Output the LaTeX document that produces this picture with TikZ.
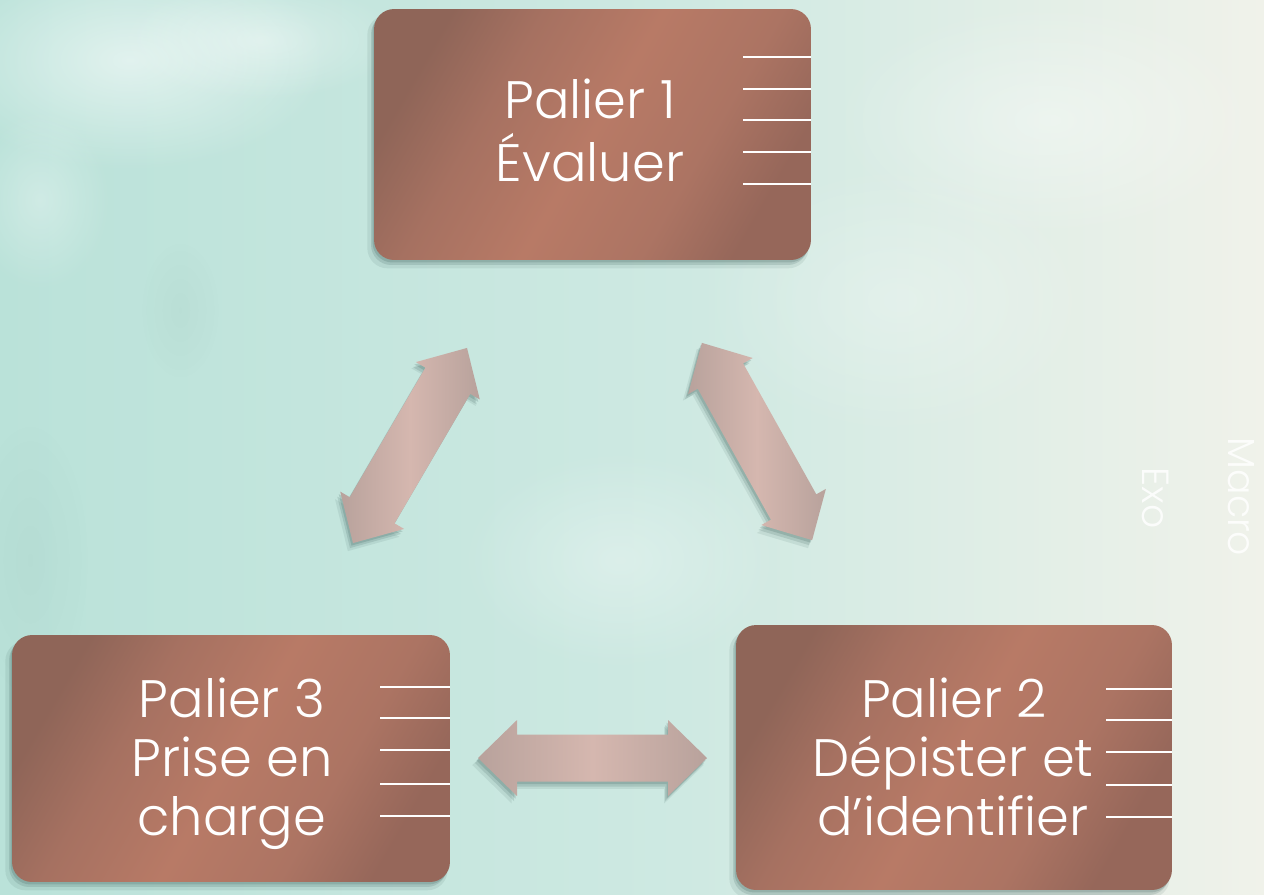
\documentclass[tikz,border=0pt]{standalone}
\usepackage{fontspec}
\IfFontExistsTF{Poppins Light}{\setmainfont{Poppins Light}}{\setmainfont{Poppins}}
\usetikzlibrary{shadows,fadings}
\definecolor{bdark}{RGB}{143,101,88}
\definecolor{bmid}{RGB}{166,113,97}
\definecolor{blight}{RGB}{184,122,102}
\definecolor{bmidb}{RGB}{172,116,99}
\definecolor{bdarkb}{RGB}{150,103,90}
\definecolor{adark}{RGB}{184,162,156}
\definecolor{alight}{RGB}{213,183,175}
\definecolor{bgA}{RGB}{186,226,217}
\definecolor{bgB}{RGB}{206,233,226}
\definecolor{bgC}{RGB}{240,242,234}
\definecolor{shadowc}{RGB}{55,90,85}
\pgfdeclarehorizontalshading{boxshade}{100bp}{color(0bp)=(bdark); color(25bp)=(bdark); color(36bp)=(bmid); color(50bp)=(blight); color(64bp)=(bmidb); color(75bp)=(bdarkb); color(100bp)=(bdarkb)}
\pgfdeclarehorizontalshading{arrowshade}{100bp}{color(0bp)=(adark); color(25bp)=(adark); color(50bp)=(alight); color(75bp)=(adark); color(100bp)=(adark)}
\pgfdeclarehorizontalshading{bgshade}{100bp}{color(0bp)=(bgA); color(25bp)=(bgA); color(52bp)=(bgB); color(75bp)=(bgC); color(100bp)=(bgC)}
\tikzfading[name=softblob, inner color=transparent!0, outer color=transparent!100]
\tikzset{
  shadowfx/.style={
    general shadow={fill=shadowc, opacity=0.10, shadow xshift=-0.09cm, shadow yshift=-0.14cm, shadow scale=1.01},
    general shadow={fill=shadowc, opacity=0.16, shadow xshift=-0.06cm, shadow yshift=-0.10cm},
    general shadow={fill=shadowc, opacity=0.20, shadow xshift=-0.03cm, shadow yshift=-0.05cm}},
  palierbox/.style={shape=rectangle, rounded corners=0.4cm, shading=boxshade, shading angle=-30, shadowfx, inner sep=0pt},
  boxtext/.style={text=white, anchor=base, inner sep=0pt, font=\fontsize{30}{36}\selectfont},
  tickline/.style={draw=white, line width=0.9pt},
  blockarrow/.style={shading=arrowshade, shadowfx},
  sidetext/.style={text=white, opacity=0.85, rotate=-90, font=\fontsize{21.5}{26}\selectfont, inner sep=0pt},
  blob/.style={fill=white, path fading=softblob}
}
\begin{document}
\begin{tikzpicture}[x=0.02cm, y=-0.02cm]
\useasboundingbox (0,0) rectangle (1264,894);
% background
\shade[shading=bgshade] (0,0) rectangle (1264,894);
\fill[blob, opacity=0.55] (130,60) ellipse (200 and 110);
\fill[blob, opacity=0.40] (260,40) ellipse (140 and 60);
\fill[blob, opacity=0.30] (40,200) ellipse (70 and 90);
\fill[blob, opacity=0.30] (620,560) ellipse (160 and 110);
\fill[blob, opacity=0.25] (900,300) ellipse (200 and 140);
\fill[blob, opacity=0.35] (1050,120) ellipse (220 and 120);
\fill[shadowc, path fading=softblob, opacity=0.04] (180,310) ellipse (40 and 70);
\fill[shadowc, path fading=softblob, opacity=0.04] (30,560) ellipse (60 and 140);
% boxes
\node[palierbox, minimum width=8.74cm, minimum height=5.02cm] (p1) at (592.5,134.5) {};
\node[palierbox, minimum width=8.72cm, minimum height=5.30cm] (p2) at (954,757.5) {};
\node[palierbox, minimum width=8.76cm, minimum height=4.94cm] (p3) at (231,758.5) {};
% tick lines
\foreach \yy in {57,89,120,152,184}
  \draw[tickline] ([xshift=-1.36cm]p1.east |- 0,\yy) -- (p1.east |- 0,\yy);
\foreach \yy in {689,720,752,785,817}
  \draw[tickline] ([xshift=-1.32cm]p2.east |- 0,\yy) -- (p2.east |- 0,\yy);
\foreach \yy in {687,718,750,784,816}
  \draw[tickline] ([xshift=-1.40cm]p3.east |- 0,\yy) -- (p3.east |- 0,\yy);
% texts
\node[boxtext] (p1a) at (590,118) {Palier 1};
\node[boxtext] (p1b) at (590,181) {Évaluer};
\node[boxtext] (p2a) at (954,717) {Palier 2};
\node[boxtext] (p2b) at (953,776) {Dépister et};
\node[boxtext] (p2c) at (953,835) {d’identifier};
\node[boxtext] (p3a) at (232,717) {Palier 3};
\node[boxtext] (p3b) at (232,776) {Prise en};
\node[boxtext] (p3c) at (232,835) {charge};
% arrows
\begin{scope}[shift={(410,445.5)}, rotate=59.7]
\shade[blockarrow] (-113,0) -- (-75,37) -- (-75,26) -- (75,26) -- (75,37) -- (113,0) -- (75,-37) -- (75,-26) -- (-75,-26) -- (-75,-37) -- cycle;
\end{scope}
\begin{scope}[shift={(757,441.5)}, rotate=-60.8]
\shade[blockarrow] (-113,0) -- (-75,37) -- (-75,26) -- (75,26) -- (75,37) -- (113,0) -- (75,-37) -- (75,-26) -- (-75,-26) -- (-75,-37) -- cycle;
\end{scope}
\begin{scope}[shift={(592.5,758)}]
\shade[blockarrow] (-114.5,0) -- (-75.5,38) -- (-75.5,23.5) -- (75.5,23.5) -- (75.5,38) -- (114.5,0) -- (75.5,-38) -- (75.5,-23.5) -- (-75.5,-23.5) -- (-75.5,-38) -- cycle;
\end{scope}
% side labels
\node[sidetext] (macro) at (1241,497) {Macro};
\node[sidetext] (exo) at (1156,498) {Exo};
\end{tikzpicture}
\end{document}
